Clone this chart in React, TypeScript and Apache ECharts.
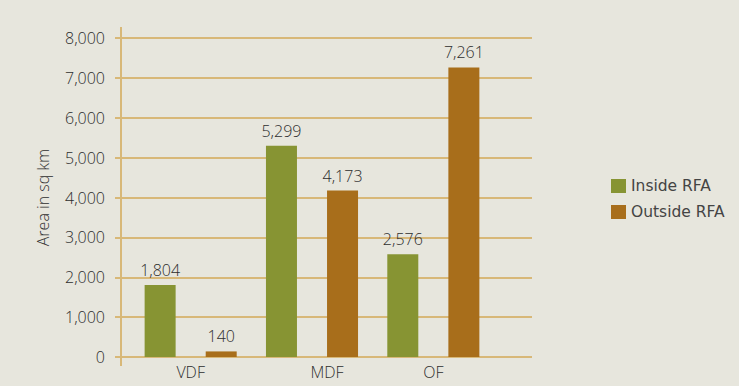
import React, { useEffect, useRef } from "react";
import * as echarts from "echarts";

const categories = ["VDF", "MDF", "OF"];
const insideRFA = [1804, 5299, 2576];
const outsideRFA = [140, 4173, 7261];
const yTicks = [0, 1000, 2000, 3000, 4000, 5000, 6000, 7000, 8000];

const GREEN = "#879433";
const ORANGE = "#a86e1b";
const GRID = "#d8b878";
const TEXT = "#2e2e2e";
const FONT = "'Open Sans', Lato, sans-serif";
const FW = 300;
const FS = 16;

export default function App() {
  const ref = useRef<HTMLDivElement>(null);
  useEffect(() => {
    const chart = echarts.init(ref.current!, null, { renderer: "svg" });
    const fmt = (v: number) => v.toLocaleString("en-US");
    chart.setOption({
      animation: false,
      backgroundColor: "#e7e6dd",
      textStyle: { fontFamily: FONT },
      legend: {
        orient: "vertical",
        left: 606,
        top: 173,
        itemWidth: 15,
        itemHeight: 14,
        itemGap: 10,
        icon: "rect",
        textStyle: { fontFamily: "'DejaVu Sans', sans-serif", fontSize: 15.5, color: "#444", padding: [0, 0, 0, 0] },
        data: ["Inside RFA", "Outside RFA"],
      },
      graphic: [
        {
          type: "line",
          shape: { x1: 121, y1: 27, x2: 121, y2: 366 },
          style: { stroke: GRID, lineWidth: 2 },
          z: 5,
        },
      ],
      grid: [
        { left: 130, right: 245, top: 38, bottom: 29 },
        { left: 121, right: 207, top: 38, bottom: 29 },
      ],
      xAxis: [
        {
          type: "category",
          gridIndex: 0,
          data: categories,
          axisLine: { show: false },
          axisTick: { show: false },
          axisLabel: {
            margin: 7,
            fontSize: FS,
            fontWeight: FW,
            color: TEXT,
            fontFamily: FONT,
            formatter: (v: string) => (v === "MDF" ? "{m|" + v + "}" : v),
            rich: { m: { fontSize: FS, fontWeight: FW, color: TEXT, fontFamily: FONT, padding: [0, 0, 0, 30] } },
          },
        },
        { type: "category", gridIndex: 1, data: categories, show: false },
      ],
      yAxis: [
        { type: "value", gridIndex: 0, min: 0, max: 8000, interval: 1000, show: false },
        {
          type: "value",
          gridIndex: 1,
          min: yTicks[0],
          max: yTicks[yTicks.length - 1],
          interval: 1000,
          name: "Area in sq km",
          nameLocation: "middle",
          nameGap: 70,
          nameTextStyle: { fontSize: 16, fontWeight: FW, color: TEXT, fontFamily: FONT },
          axisLine: { show: false },
          axisTick: { show: true, length: 6, lineStyle: { color: GRID, width: 2 } },
          axisLabel: { margin: 16, fontSize: FS, fontWeight: FW, color: TEXT, fontFamily: FONT, formatter: fmt },
          splitLine: { show: true, lineStyle: { color: GRID, width: 2 } },
        },
      ],
      series: [
        {
          name: "Inside RFA",
          type: "bar",
          xAxisIndex: 0,
          yAxisIndex: 0,
          data: insideRFA,
          barWidth: 31,
          barGap: "97%",
          itemStyle: { color: GREEN },
          label: { show: true, position: "top", distance: 7, fontSize: FS, fontWeight: FW, color: TEXT, fontFamily: FONT, formatter: (p: any) => fmt(p.value) },
          z: 3,
        },
        {
          name: "Outside RFA",
          type: "bar",
          xAxisIndex: 0,
          yAxisIndex: 0,
          data: outsideRFA,
          barWidth: 31,
          barGap: "97%",
          itemStyle: { color: ORANGE },
          label: { show: true, position: "top", distance: 7, fontSize: FS, fontWeight: FW, color: TEXT, fontFamily: FONT, formatter: (p: any) => fmt(p.value) },
          z: 3,
        },
      ],
    });
    return () => chart.dispose();
  }, []);
  return <div ref={ref} style={{ position: "fixed", left: 0, top: 0, width: 739, height: 386 }} />;
}
